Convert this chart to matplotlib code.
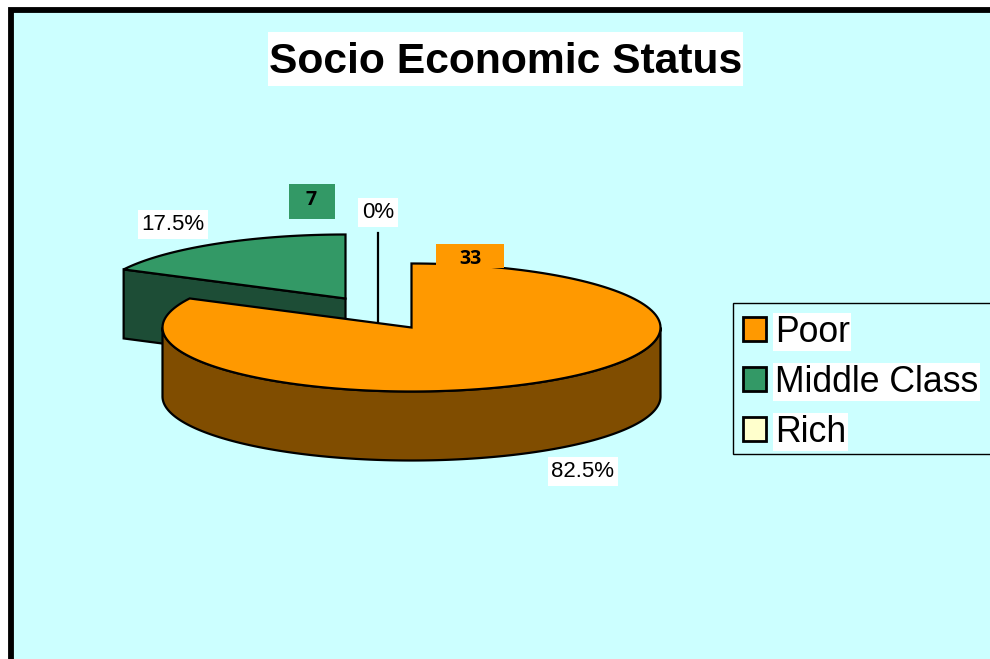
#!/usr/bin/env python3
# Socio economic status: exploded pseudo-3D pie with boxed labels.

import numpy as np
import matplotlib
matplotlib.use('Agg')
import matplotlib.pyplot as plt
from matplotlib.patches import Patch, Rectangle

categories = ['Poor', 'Middle Class', 'Rich']
counts = [33, 7, 0]
top_colors = ['#FF9900', '#339966', '#FFFFCC']
side_colors = ['#804D00', '#1D4D36', '#80804D']

TITLE = 'Socio Economic Status'

# slice centres after explosion, in pixels
centers = [(411.5, 327.5), (345.5, 298.5), (378, 296.5)]
RX, RY = 249, 64
DEPTH = 69

plt.rcParams['font.family'] = ['Liberation Sans', 'DejaVu Sans']

fig = plt.figure(figsize=(9.9, 6.59), dpi=100, facecolor='white')
ax = fig.add_axes([0, 0, 1, 1])
ax.set_xlim(0, 990)
ax.set_ylim(659, 0)
ax.axis('off')

# chart area with its heavy border
ax.add_patch(Rectangle((10.5, 9.5), 1000, 700, fc='#CCFFFF', ec='black', lw=4.2, zorder=0))


def arc(cx, cy, a0, a1, dy=0):
    t = np.radians(np.linspace(a0, a1, 160))
    return cx + RX * np.cos(t), cy - RY * np.sin(t) + dy


total = sum(counts)
shares = [c / total for c in counts]
starts = 90 - 360 * np.concatenate(([0], np.cumsum(shares)[:-1]))
ends = starts - 360 * np.array(shares)

# back slices first, the big one goes on top
for i in [2, 1, 0]:
    cx, cy = centers[i]
    a0, a1 = starts[i], ends[i]
    z = 5 if i == 0 else 2

    if counts[i] == 0:
        # an empty slice is only a line
        x, y = arc(cx, cy, a0, a0)
        ax.plot([x[0], cx, cx], [y[0], cy, cy + DEPTH], color='black', lw=1.6, zorder=z)
        continue

    if i == 0:
        # front wall, from the left extreme round to the right one
        xa, ya = arc(cx, cy, 180, 360)
        xb, yb = arc(cx, cy, 360, 180, DEPTH)
        ax.fill(np.r_[xa, xb], np.r_[ya, yb], fc=side_colors[i], ec='black', lw=1.6, zorder=z)
    else:
        # cut face showing under the radial edge
        xe, ye = arc(cx, cy, a0, a0)
        ax.fill([xe[0], cx, cx, xe[0]], [ye[0], cy, cy + DEPTH, ye[0] + DEPTH],
                fc=side_colors[i], ec='black', lw=1.6, zorder=z)

    xt, yt = arc(cx, cy, a0, a1)
    ax.fill(np.r_[cx, xt], np.r_[cy, yt], fc=top_colors[i], ec='black', lw=1.6, zorder=z + 0.5)

# percentage labels
pct_pos = [(583, 471.5), (173, 224.5), (378, 212.5)]
for c, (x, y) in zip(counts, pct_pos):
    ax.text(x, y, f'{c / total * 100:g}%', fontsize=16, ha='center', va='center', zorder=8,
            bbox=dict(fc='white', ec='none', pad=2.5))

# value labels in boxes of the slice colour
value_boxes = [(436, 244, 68, 24), (289, 184, 46, 35)]
value_pos = [(470, 259), (311, 200)]
for c, col, box, (x, y) in zip(counts, top_colors, value_boxes, value_pos):
    ax.add_patch(Rectangle(box[:2], box[2], box[3], fc=col, ec='none', zorder=8))
    ax.text(x, y, str(c), fontsize=14, fontweight='bold', family=['Open Sans', 'DejaVu Sans'],
            ha='center', va='center', zorder=9)

# title on its white band
ax.add_patch(Rectangle((268, 32), 475, 54, fc='white', ec='none', zorder=7))
ax.text(505.5, 62, TITLE, fontsize=30.7, fontweight='bold', ha='center', va='center', zorder=8)

# legend frame runs past the right edge of the chart
ax.add_patch(Rectangle((733, 302.5), 300, 151, fc='#CCFFFF', ec='black', lw=1, zorder=9))
handles = [Patch(fc=col, ec='black', lw=2) for col in top_colors]
leg = ax.legend(handles, categories, loc='upper left', bbox_to_anchor=(732, 304),
                bbox_transform=ax.transData, borderaxespad=0, fontsize=25.7, frameon=False,
                borderpad=0.3, handlelength=0.64, handleheight=0.64, handletextpad=0.26,
                labelspacing=0.42)
leg.set_zorder(10)
for txt in leg.get_texts():
    txt.set_bbox(dict(fc='white', ec='none', pad=1))

fig.savefig('out.png', dpi=100)
